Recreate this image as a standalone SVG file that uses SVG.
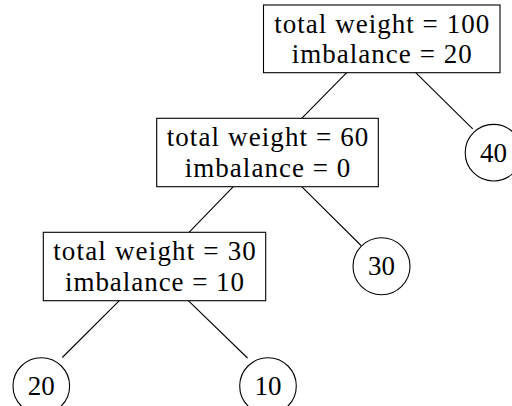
<svg xmlns="http://www.w3.org/2000/svg" width="512" height="406" viewBox="0 0 512 406">
<style>
.box{fill:#fff;stroke:#000;stroke-width:1.1}
.leaf{fill:#fff;stroke:#000;stroke-width:1.1}
.edge{stroke:#000;stroke-width:1.1;fill:none}
text{font-family:"Liberation Serif","Times New Roman",serif;font-size:27px;fill:#000;text-anchor:middle}
</style>
<rect width="512" height="406" fill="#fff"/>
<g id="connectors">
<line class="edge" x1="346.7" y1="72.7" x2="301.7" y2="118.3"/>
<line class="edge" x1="415.7" y1="72.7" x2="472.7" y2="128.8"/>
<line class="edge" x1="233.3" y1="186.7" x2="189" y2="232.3"/>
<line class="edge" x1="301.7" y1="186.7" x2="361" y2="245.5"/>
<line class="edge" x1="119.3" y1="300.7" x2="62.3" y2="357.5"/>
<line class="edge" x1="188.3" y1="300.7" x2="247.5" y2="358"/>
</g>
<g id="n100">
<rect class="box" x="263.5" y="5" width="236.5" height="67.7"/>
<text x="381.7" y="33" textLength="215" lengthAdjust="spacing">total weight = 100</text>
<text x="381.7" y="63" textLength="180" lengthAdjust="spacing">imbalance = 20</text>
</g>
<g id="n60">
<rect class="box" x="156.7" y="118.3" width="221.6" height="68.4"/>
<text x="267.5" y="146.3" textLength="201.7" lengthAdjust="spacing">total weight = 60</text>
<text x="267.5" y="176.5" textLength="165.7" lengthAdjust="spacing">imbalance = 0</text>
</g>
<g id="n30">
<rect class="box" x="43.3" y="232.3" width="222.4" height="68.4"/>
<text x="154.5" y="260.3" textLength="202.7" lengthAdjust="spacing">total weight = 30</text>
<text x="154.5" y="290.5" textLength="179" lengthAdjust="spacing">imbalance = 10</text>
</g>
<g id="leaf40">
<circle class="leaf" cx="493.5" cy="152.7" r="28.3"/>
<text x="493.5" y="161.5">40</text>
</g>
<g id="leaf30">
<circle class="leaf" cx="381.5" cy="266.3" r="28.5"/>
<text x="381.5" y="275.2">30</text>
</g>
<g id="leaf20">
<circle class="leaf" cx="41.3" cy="386" r="28.3"/>
<text x="41.3" y="394.8">20</text>
</g>
<g id="leaf10">
<circle class="leaf" cx="268" cy="386" r="28.3"/>
<text x="268" y="394.8">10</text>
</g>
</svg>
